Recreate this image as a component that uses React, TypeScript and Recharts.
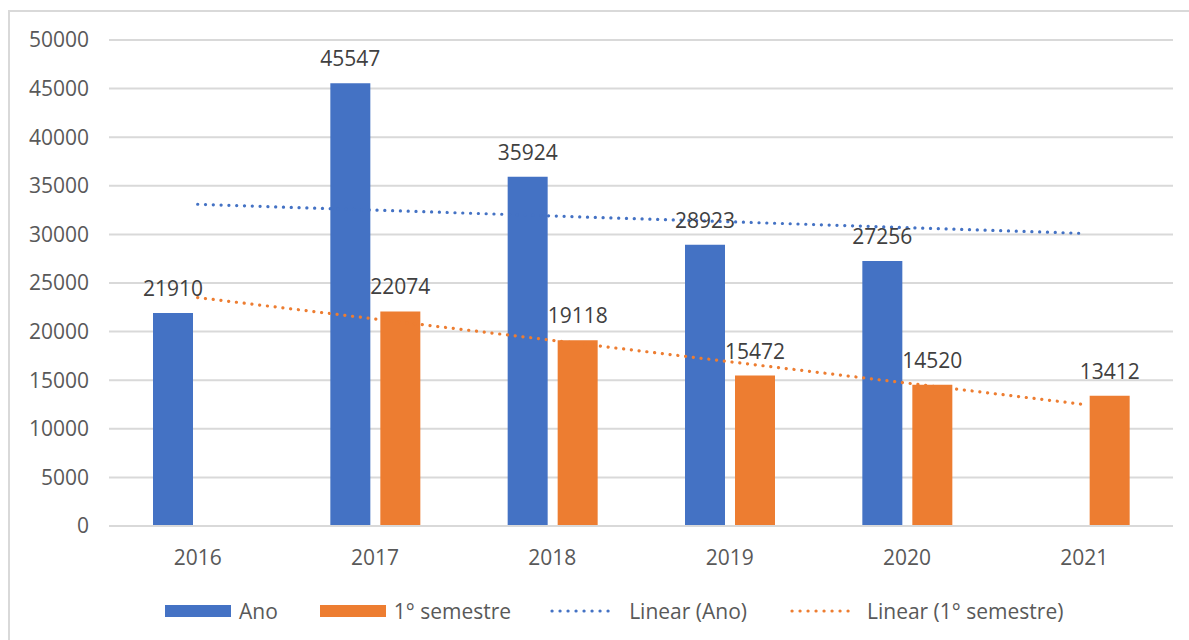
import React from "react";
import {
  ComposedChart,
  Bar,
  Line,
  XAxis,
  YAxis,
  CartesianGrid,
  LabelList,
} from "recharts";

const years = ["2016", "2017", "2018", "2019", "2020", "2021"];
const ano = [21910, 45547, 35924, 28923, 27256, null];
const semestre = [null, 22074, 19118, 15472, 14520, 13412];
// trend line end points
const trendAno = [33100, null, null, null, null, 30100];
const trendSemestre = [23500, null, null, null, null, 12500];
const yTicks = [0, 5000, 10000, 15000, 20000, 25000, 30000, 35000, 40000, 45000, 50000];

const BLUE = "#4472C4";
const ORANGE = "#ED7D31";
const GRID = "#d9d9d9";
const FONT = "'Open Sans', sans-serif";

const data = years.map((year, i) => ({
  year,
  ano: ano[i],
  semestre: semestre[i],
  trendAno: trendAno[i],
  trendSemestre: trendSemestre[i],
}));

function RectIcon({ color }: { color: string }) {
  return (
    <svg width={66} height={12} style={{ display: "block" }}>
      <rect x={0} y={0} width={66} height={12} fill={color} />
    </svg>
  );
}

function DotIcon({ color }: { color: string }) {
  return (
    <svg width={66} height={12} style={{ display: "block" }}>
      <line
        x1={3}
        y1={6}
        x2={66}
        y2={6}
        stroke={color}
        strokeWidth={3.2}
        strokeDasharray="0.1 7.9"
        strokeLinecap="round"
      />
    </svg>
  );
}

const legendText: React.CSSProperties = {
  fontFamily: FONT,
  fontSize: 21,
  color: "#595959",
  whiteSpace: "nowrap",
};

export default function App() {
  return (
    <div
      style={{
        position: "absolute",
        left: 0,
        top: 0,
        width: 1189,
        height: 640,
        background: "#fff",
        overflow: "hidden",
      }}
    >
      <div
        style={{
          position: "absolute",
          left: 8,
          top: 10,
          width: 1200,
          height: 660,
          borderTop: `2px solid ${GRID}`,
          borderLeft: `2px solid ${GRID}`,
        }}
      />
      <div style={{ position: "absolute", left: 0, top: 0 }}>
        <ComposedChart
          width={1189}
          height={640}
          data={data}
          margin={{ top: 40, right: 16, bottom: 74, left: 49 }}
          barSize={40}
          barGap={10}
        >
          <CartesianGrid vertical={false} stroke={GRID} strokeWidth={2} />
          <XAxis
            dataKey="year"
            height={40}
            axisLine={{ stroke: GRID, strokeWidth: 2 }}
            tickLine={false}
            tickSize={0}
            tickMargin={24}
            tick={{ fill: "#595959", fontSize: 21, fontFamily: FONT }}
          />
          <YAxis
            width={60}
            domain={[0, 50000]}
            ticks={yTicks}
            interval={0}
            axisLine={false}
            tickLine={false}
            tickSize={0}
            tickMargin={20}
            tick={{ fill: "#595959", fontSize: 21, fontFamily: FONT }}
          />
          <Bar dataKey="ano" fill={BLUE} isAnimationActive={false}>
            <LabelList
              dataKey="ano"
              position="top"
              offset={17}
              fill="#404040"
              fontSize={21}
              fontFamily={FONT}
            />
          </Bar>
          <Bar dataKey="semestre" fill={ORANGE} isAnimationActive={false}>
            <LabelList
              dataKey="semestre"
              position="top"
              offset={17}
              fill="#404040"
              fontSize={21}
              fontFamily={FONT}
            />
          </Bar>
          <Line
            dataKey="trendAno"
            stroke={BLUE}
            strokeWidth={3.2}
            strokeDasharray="0.1 7.7"
            strokeLinecap="round"
            dot={false}
            activeDot={false}
            connectNulls
            isAnimationActive={false}
          />
          <Line
            dataKey="trendSemestre"
            stroke={ORANGE}
            strokeWidth={3.2}
            strokeDasharray="0.1 7.7"
            strokeLinecap="round"
            dot={false}
            activeDot={false}
            connectNulls
            isAnimationActive={false}
          />
        </ComposedChart>
      </div>
      <div
        style={{
          position: "absolute",
          left: 165,
          top: 594,
          height: 34,
          display: "flex",
          alignItems: "center",
        }}
      >
        <RectIcon color={BLUE} />
        <span style={{ ...legendText, marginLeft: 8, marginRight: 42 }}>Ano</span>
        <RectIcon color={ORANGE} />
        <span style={{ ...legendText, marginLeft: 8, marginRight: 38 }}>1° semestre</span>
        <DotIcon color={BLUE} />
        <span style={{ ...legendText, marginLeft: 14, marginRight: 42 }}>Linear (Ano)</span>
        <DotIcon color={ORANGE} />
        <span style={{ ...legendText, marginLeft: 12 }}>Linear (1° semestre)</span>
      </div>
    </div>
  );
}
